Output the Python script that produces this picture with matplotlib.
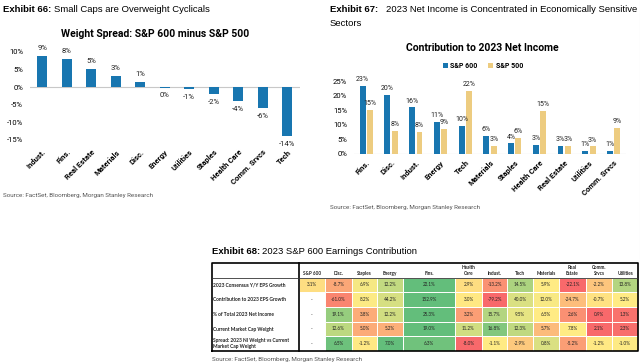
import matplotlib.pyplot as plt
import numpy as np

plt.rcParams['font.family'] = ['Roboto', 'DejaVu Sans']

W, H = 640, 362
BLUE = '#1876B0'
BEIGE = '#EDCC80'

# Exhibit 66: weight spread S&P 600 minus S&P 500 (%)
spread_sectors = ['Indust.', 'Fins.', 'Real Estate', 'Materials', 'Disc.', 'Energy',
                  'Utilities', 'Staples', 'Health Care', 'Comm. Srvcs', 'Tech']
spread_vals = [8.8, 8.0, 5.1, 3.1, 1.4, -0.1, -0.6, -2.0, -4.0, -6.0, -13.9]

# Exhibit 67: contribution to 2023 net income (%)
ni_sectors = ['Fins.', 'Disc.', 'Indust.', 'Energy', 'Tech', 'Materials', 'Staples',
              'Health Care', 'Real Estate', 'Utilities', 'Comm. Srvcs']
ni_sp600 = [23.2, 20.2, 16.0, 11.1, 9.6, 6.1, 3.6, 3.2, 2.9, 1.1, 1.1]
ni_sp500 = [15.1, 8.0, 7.7, 8.6, 21.6, 2.7, 5.6, 14.8, 2.7, 2.6, 9.0]

# Exhibit 68: table
tbl_sectors = ['Disc.', 'Staples', 'Energy', 'Fins.', 'Health\nCare', 'Indust.', 'Tech',
               'Materials', 'Real\nEstate', 'Comm.\nSrvcs', 'Utilities']
tbl_rows = ['2023 Consensus Y/Y EPS Growth', 'Contribution to 2023 EPS Growth',
            '% of Total 2023 Net Income', 'Current Market Cap Weight',
            'Spread: 2023 NI Weight vs Current\nMarket Cap Weight']
sp600_col = [3.1, None, None, None, None]
eps_growth = [-8.7, 6.9, 12.2, 22.1, 2.9, -13.2, 14.5, 5.9, -22.1, -2.2, 13.8]
eps_contrib = [-61.0, 8.2, 44.2, 152.9, 3.0, -79.2, 40.0, 12.0, -24.7, -0.7, 5.2]
ni_share = [19.1, 3.8, 12.2, 25.3, 3.2, 15.7, 9.5, 6.5, 2.6, 0.9, 1.3]
mcap_weight = [12.6, 5.0, 5.2, 19.0, 11.2, 16.8, 12.3, 5.7, 7.8, 2.1, 2.3]
ni_vs_mcap = [6.5, -1.2, 7.0, 6.3, -8.0, -1.1, -2.9, 0.8, -5.2, -1.2, -1.0]


def px_axes(fig, x0, y0, x1, y1):
    return fig.add_axes([x0 / W, 1 - y1 / H, (x1 - x0) / W, (y1 - y0) / H])


def px_text(fig, x, y, s, **kw):
    return fig.text(x / W, 1 - y / H, s, **kw)


def scale_color(v, vals):
    # excel style 3-colour scale: red - yellow - green
    red = np.array([248, 105, 107]) / 255
    yel = np.array([255, 235, 132]) / 255
    grn = np.array([99, 190, 123]) / 255
    lo, mid, hi = min(vals), np.median(vals), max(vals)
    if v <= mid:
        t = (v - lo) / (mid - lo)
        c = red + (yel - red) * t
    else:
        t = (v - mid) / (hi - mid)
        c = yel + (grn - yel) * t
    return tuple(np.clip(c, 0, 1))


def pct(v):
    return f'{round(v)}%'


fig = plt.figure(figsize=(6.4, 3.62), dpi=100)

head_font = ['Liberation Sans', 'DejaVu Sans']

# ---- Exhibit 66 ----
px_text(fig, 3, 10, 'Exhibit 66:', fontsize=6.8, fontweight='bold', va='center', family=head_font)
px_text(fig, 54, 10, 'Small Caps are Overweight Cyclicals', fontsize=6.8, va='center', family=head_font)
px_text(fig, 155, 34, 'Weight Spread: S&P 600 minus S&P 500', fontsize=7.5, fontweight='bold',
        ha='center', va='center')

ax1 = px_axes(fig, 30, 52, 299.5, 140)
x1 = np.arange(len(spread_sectors))
b1 = ax1.bar(x1, spread_vals, width=0.42, color=BLUE)
ax1.axhline(0, color='#C8C8C8', lw=0.8, zorder=0)
ax1.bar_label(b1, labels=[pct(v) for v in spread_vals], padding=3.5, fontsize=5.5, color='#222222')
ax1.set_xlim(-0.5, 10.5)
ax1.set_ylim(-15, 10)
ax1.set_yticks([-15, -10, -5, 0, 5, 10])
ax1.set_yticklabels([f'{t}%' for t in [-15, -10, -5, 0, 5, 10]])
ax1.set_xticks(x1)
ax1.set_xticklabels(spread_sectors, rotation=45, ha='right', rotation_mode='anchor',
                    fontweight='bold')
ax1.tick_params(axis='y', length=0, labelsize=5.5, pad=5)
ax1.tick_params(axis='x', length=0, labelsize=5.5, pad=6)
for s in ax1.spines.values():
    s.set_visible(False)
px_text(fig, 3, 195, 'Source: FactSet, Bloomberg, Morgan Stanley Research', fontsize=4.5,
        color='#555555', va='center')

# ---- Exhibit 67 ----
px_text(fig, 330, 10, 'Exhibit 67:', fontsize=6.8, fontweight='bold', va='center', family=head_font)
px_text(fig, 386, 10, '2023 Net Income is Concentrated in Economically Sensitive', fontsize=6.8,
        va='center', family=head_font)
px_text(fig, 330, 23, 'Sectors', fontsize=6.8, va='center', family=head_font)
px_text(fig, 482, 48, 'Contribution to 2023 Net Income', fontsize=7.5, fontweight='bold',
        ha='center', va='center')

ax2 = px_axes(fig, 354, 81, 626, 154)
x2 = np.arange(len(ni_sectors))
b2a = ax2.bar(x2 - 0.15, ni_sp600, width=0.24, color=BLUE, label='S&P 600')
b2b = ax2.bar(x2 + 0.15, ni_sp500, width=0.24, color=BEIGE, label='S&P 500')
ax2.axhline(0, color='#C8C8C8', lw=0.8, zorder=0)
ax2.bar_label(b2a, labels=[pct(v) for v in ni_sp600], padding=2, fontsize=5, color='#222222')
ax2.bar_label(b2b, labels=[pct(v) for v in ni_sp500], padding=2, fontsize=5, color='#222222')
ax2.set_xlim(-0.5, 10.5)
ax2.set_ylim(0, 25)
ax2.set_yticks([0, 5, 10, 15, 20, 25])
ax2.set_yticklabels([f'{t}%' for t in [0, 5, 10, 15, 20, 25]])
ax2.set_xticks(x2)
ax2.set_xticklabels(ni_sectors, rotation=45, ha='right', rotation_mode='anchor',
                    fontweight='bold')
ax2.tick_params(axis='y', length=0, labelsize=5.5, pad=5)
ax2.tick_params(axis='x', length=0, labelsize=5.5, pad=3.5)
for s in ax2.spines.values():
    s.set_visible(False)
fig.legend(handles=[b2a, b2b], loc='center', bbox_to_anchor=(483 / W, 1 - 66 / H), ncol=2,
           frameon=False, prop={'weight': 'bold', 'size': 5}, handlelength=0.7,
           handleheight=0.7, columnspacing=1.5, handletextpad=0.4)
px_text(fig, 330, 208, 'Source: FactSet, Bloomberg, Morgan Stanley Research', fontsize=4.5,
        color='#555555', va='center')

# faint frame edge on the right of the top panels
fig.add_artist(plt.Line2D([639.5 / W, 639.5 / W], [1 - 258 / H, 1], color='#E6E6E6', lw=0.8))

# ---- Exhibit 68 ----
px_text(fig, 212, 251, 'Exhibit 68:', fontsize=6.8, fontweight='bold', va='center', family=head_font)
px_text(fig, 262, 251, '2023 S&P 600 Earnings Contribution', fontsize=6.8, va='center', family=head_font)

row_data = [eps_growth, eps_contrib, ni_share, mcap_weight, ni_vs_mcap]
cell_text, cell_colors = [], []
for i, label in enumerate(tbl_rows):
    vals = row_data[i]
    sp = sp600_col[i]
    texts = [label, '-' if sp is None else f'{sp:.1f}%'] + [f'{v:.1f}%' for v in vals]
    cols = ['white', 'white' if sp is None else scale_color(sp, vals)] + \
           [scale_color(v, vals) for v in vals]
    cell_text.append(texts)
    cell_colors.append(cols)

col_labels = [''] + ['\nS&P 600'] + [s if '\n' in s else '\n' + s for s in tbl_sectors]
col_widths = [87, 26, 27, 25, 26, 52, 27, 25, 26, 26, 27, 26, 26]

axT = px_axes(fig, 212, 263, 638, 351)
axT.axis('off')
tbl = axT.table(cellText=cell_text, cellColours=cell_colors, colLabels=col_labels,
                colWidths=[w / sum(col_widths) for w in col_widths], cellLoc='center',
                bbox=[0, 0, 1, 1])
tbl.auto_set_font_size(False)
tbl.set_fontsize(3.3)
for (r, c), cell in tbl.get_celld().items():
    cell.set_edgecolor('white')
    cell.set_linewidth(0.7)
    txt = cell.get_text()
    txt.set_family(['Lato', 'DejaVu Sans'])
    txt.set_color('#222222')
    if r == 0:
        txt.set_fontweight('bold')
        txt.set_linespacing(1.3)
    if c == 0:
        cell.PAD = 0.015
        txt.set_ha('left')
        txt.set_fontweight('bold')
        txt.set_fontsize(3.5)
        cell._loc = 'left'

xs = np.cumsum(col_widths) / sum(col_widths)
axT.plot([0, 1, 1, 0, 0], [0, 0, 1, 1, 0], color='black', lw=1.2, transform=axT.transAxes,
         clip_on=False, zorder=5)
axT.plot([xs[0], xs[0]], [0, 1], color='black', lw=1.2, transform=axT.transAxes,
         clip_on=False, zorder=5)
axT.plot([0, 1], [5 / 6, 5 / 6], color='#333333', lw=0.6, transform=axT.transAxes,
         clip_on=False, zorder=5)
px_text(fig, 212, 357, 'Source: FactSet, Bloomberg, Morgan Stanley Research', fontsize=4.5,
        color='#555555', va='top')

fig.savefig('out.png', dpi=100)
